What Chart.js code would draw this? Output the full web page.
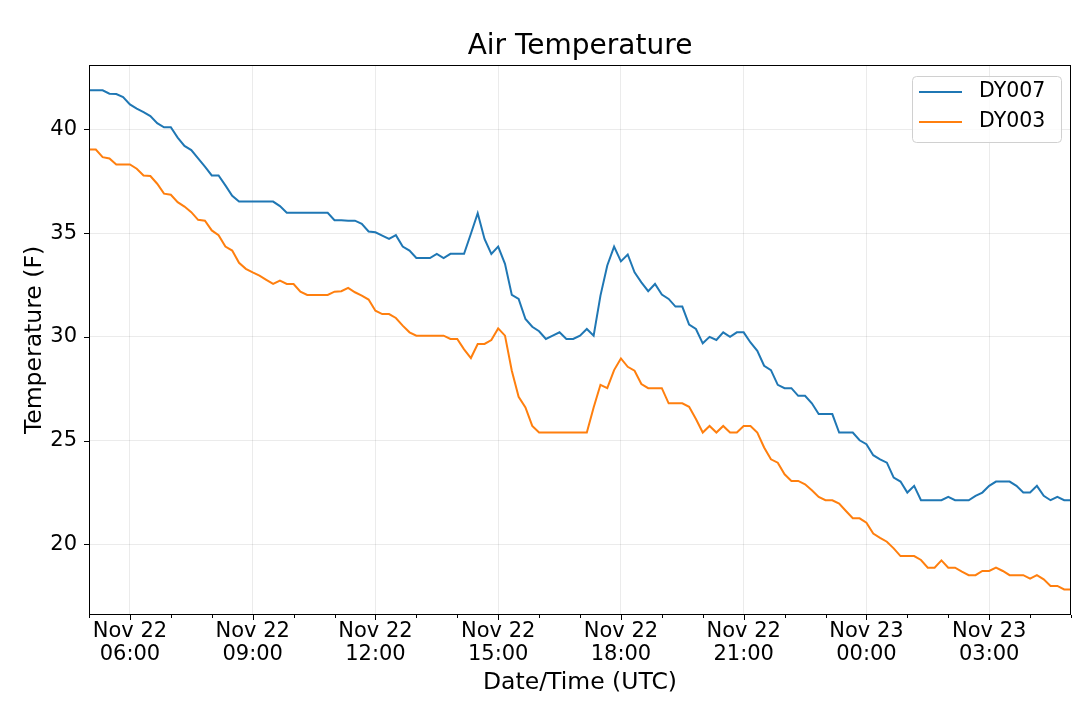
<!DOCTYPE html>
<html>
<head>
<meta charset="utf-8">
<title>Air Temperature</title>
<script src="https://cdn.jsdelivr.net/npm/chart.js@4.4.0/dist/chart.umd.min.js"></script>
<style>
html,body{margin:0;padding:0;background:#fff;}
#wrap{width:1080px;height:710px;}
</style>
</head>
<body>
<div id="wrap"><canvas id="chart-1" width="1080" height="710"></canvas></div>
<script>
// readings every 10 minutes, starting Nov 22 05:00 UTC
const stepMin=10;
const dy007=[41.88,41.88,41.88,41.72,41.7,41.56,41.2,41.0,40.83,40.64,
  40.3,40.1,40.1,39.6,39.2,39.0,38.6,38.2,37.78,37.78,
  37.3,36.8,36.52,36.52,36.52,36.52,36.52,36.52,36.3,35.98,
  35.98,35.98,35.98,35.98,35.98,35.98,35.62,35.62,35.6,35.6,
  35.45,35.08,35.04,34.88,34.72,34.9,34.35,34.16,33.8,33.8,
  33.8,34.0,33.8,34.0,34.0,34.0,34.97,35.96,34.72,34.0,
  34.35,33.52,32.02,31.83,30.86,30.49,30.27,29.9,30.06,30.22,
  29.9,29.9,30.06,30.38,30.06,31.99,33.44,34.35,33.64,33.97,
  33.11,32.63,32.2,32.55,32.04,31.83,31.46,31.46,30.59,30.38,
  29.69,30.0,29.85,30.22,30.0,30.22,30.22,29.73,29.33,28.61,
  28.4,27.69,27.53,27.53,27.16,27.16,26.8,26.28,26.28,26.28,
  25.39,25.39,25.39,25.02,24.83,24.3,24.1,23.94,23.22,23.03,
  22.5,22.82,22.13,22.13,22.13,22.13,22.29,22.13,22.13,22.13,
  22.34,22.5,22.82,23.03,23.03,23.03,22.82,22.5,22.5,22.82,
  22.34,22.13,22.29,22.13,22.13];
const dy003=[39.03,39.03,38.66,38.6,38.31,38.31,38.31,38.1,37.78,37.75,
  37.38,36.9,36.85,36.49,36.28,36.01,35.64,35.6,35.13,34.9,
  34.35,34.16,33.57,33.28,33.11,32.95,32.75,32.55,32.71,32.55,
  32.55,32.18,32.02,32.02,32.02,32.02,32.18,32.2,32.36,32.15,
  31.99,31.8,31.26,31.1,31.1,30.91,30.54,30.22,30.06,30.06,
  30.06,30.06,30.06,29.9,29.9,29.4,28.98,29.66,29.66,29.85,
  30.41,30.06,28.37,27.11,26.6,25.71,25.39,25.39,25.39,25.39,
  25.39,25.39,25.39,25.39,26.6,27.69,27.53,28.4,28.96,28.56,
  28.37,27.73,27.53,27.53,27.53,26.8,26.8,26.8,26.63,26.04,
  25.39,25.71,25.39,25.71,25.39,25.39,25.71,25.71,25.39,24.67,
  24.1,23.94,23.38,23.06,23.06,22.9,22.61,22.29,22.13,22.13,
  21.97,21.61,21.26,21.26,21.05,20.52,20.32,20.13,19.81,19.44,
  19.44,19.44,19.25,18.88,18.88,19.23,18.88,18.88,18.69,18.52,
  18.52,18.72,18.72,18.88,18.72,18.52,18.52,18.52,18.35,18.52,
  18.32,18.0,18.0,17.83,17.83];
const tickDays=['Nov 22','Nov 22','Nov 22','Nov 22','Nov 22','Nov 22','Nov 23','Nov 23'];
const tickTimes=['06:00','09:00','12:00','15:00','18:00','21:00','00:00','03:00'];
const yTicks=[20,25,30,35,40];

// minutes since 05:00 for each labelled tick, and hourly minor ticks
const majorPos=tickTimes.map(t=>((parseInt(t,10)-5+24)%24)*60);
const hourTicks=[];
for(let m=0;m<=1440;m+=60) hourTicks.push(m);

const gridCol='rgba(0,0,0,0.08)';

const extras={
  id:'extras',
  afterDraw(chart){
    const c=chart.ctx, a=chart.chartArea;
    const xs=chart.scales.x, ys=chart.scales.y;
    c.save();
    // title
    c.fillStyle='#000';
    c.font='28px "DejaVu Sans", sans-serif';
    c.textAlign='center';c.textBaseline='middle';
    c.fillText('Air Temperature',(a.left+a.right)/2,47);
    // frame
    c.strokeStyle='#000';c.lineWidth=1;
    c.strokeRect(Math.round(a.left)+0.5,Math.round(a.top)+0.5,Math.round(a.right-a.left)-1,Math.round(a.bottom-a.top)-1);
    // tick marks
    c.beginPath();
    xs.ticks.forEach(t=>{
      const px=Math.round(xs.getPixelForValue(t.value))+0.5;
      const len=majorPos.includes(t.value)?5:3;
      c.moveTo(px,a.bottom);c.lineTo(px,a.bottom+len);
    });
    ys.ticks.forEach(t=>{
      const py=Math.round(ys.getPixelForValue(t.value))+0.5;
      c.moveTo(a.left,py);c.lineTo(a.left-5,py);
    });
    c.stroke();
    // legend
    const bx=a.right-159, by=a.top+11, bw=149, bh=66;
    c.fillStyle='rgba(255,255,255,0.8)';
    c.strokeStyle='#d0d0d0';
    c.beginPath();c.roundRect(bx+0.5,by+0.5,bw,bh,4);c.fill();c.stroke();
    c.font='20.5px "DejaVu Sans", sans-serif';
    c.textAlign='left';c.textBaseline='middle';
    chart.data.datasets.forEach((d,i)=>{
      const ly=by+16+i*30;
      c.strokeStyle=d.borderColor;c.lineWidth=2;
      c.beginPath();c.moveTo(bx+7,ly);c.lineTo(bx+50,ly);c.stroke();
      c.fillStyle='#000';
      c.fillText(d.label,bx+67,ly);
    });
    c.restore();
  }
};

Chart.defaults.font.family='"DejaVu Sans", sans-serif';
Chart.defaults.color='#000';

new Chart(document.getElementById('chart-1'),{
  type:'line',
  data:{datasets:[
    {label:'DY007',data:dy007.map((v,i)=>({x:i*stepMin,y:v})),borderColor:'#1f77b4',borderWidth:2,pointRadius:0,tension:0},
    {label:'DY003',data:dy003.map((v,i)=>({x:i*stepMin,y:v})),borderColor:'#ff7f0e',borderWidth:2,pointRadius:0,tension:0}
  ]},
  options:{
    responsive:false,animation:false,devicePixelRatio:1,
    layout:{padding:{top:65,right:9,left:0,bottom:0}},
    plugins:{legend:{display:false},tooltip:{enabled:false}},
    scales:{
      x:{type:'linear',min:0,max:1440,
        afterBuildTicks:s=>{s.ticks=hourTicks.map(v=>({value:v}));},
        afterFit:s=>{s.height=95;},
        grid:{color:c=>(c.tick&&majorPos.includes(c.tick.value))?gridCol:'rgba(0,0,0,0)',drawTicks:false},
        border:{display:false},
        ticks:{autoSkip:false,maxRotation:0,padding:5,font:{size:21,lineHeight:1.1},
          callback:v=>{const k=majorPos.indexOf(v);return k<0?'':[tickDays[k],tickTimes[k]];}},
        title:{display:true,text:'Date/Time (UTC)',font:{size:23.5},padding:{top:0,bottom:13}}
      },
      y:{min:16.6,max:43.1,
        afterBuildTicks:s=>{s.ticks=yTicks.map(v=>({value:v}));},
        afterFit:s=>{s.width=89;},
        grid:{color:gridCol,drawTicks:false},
        border:{display:false},
        ticks:{padding:12,font:{size:21}},
        title:{display:true,text:'Temperature (F)',font:{size:23.5},padding:{top:21,bottom:0}}
      }
    }
  },
  plugins:[extras]
});
</script>
</body>
</html>
